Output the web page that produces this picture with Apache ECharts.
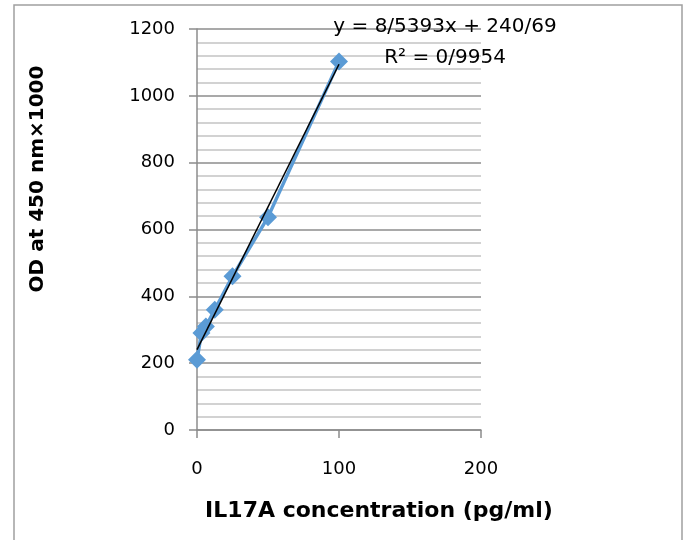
<!DOCTYPE html>
<html>
<head>
<meta charset="utf-8">
<script src="https://cdn.jsdelivr.net/npm/echarts@6/dist/echarts.min.js"></script>
<style>
  html, body { margin: 0; padding: 0; background: #fff; overflow: hidden; }
  #chart { width: 683px; height: 540px; }
</style>
</head>
<body>
<div id="chart"></div>
<script>
// 标准曲线数据 (pg/ml -> OD x1000)
const concentration = [0, 3.125, 6.25, 12.5, 25, 50, 100]
const odValues = [210, 290, 310, 360, 460, 637, 1103]
// 趋势线两端
const trendX = [0, 100]
const trendY = [240.69, 1094.62]
const trendLabel = ['y = 8/5393x + 240/69', 'R² = 0/9954']
const yTicks = [0, 200, 400, 600, 800, 1000, 1200]
const xTicks = [0, 100, 200]

const font = '"DejaVu Sans", "Noto Sans", sans-serif'

const chart = echarts.init(document.getElementById('chart'))

const option = {
  animation: false,
  backgroundColor: '#fff',
  grid: {
    left: 197,
    top: 29,
    width: 284,
    height: 401
  },
  xAxis: {
    type: 'value',
    min: xTicks[0],
    max: xTicks[xTicks.length - 1],
    interval: 100,
    axisLine: { show: true, lineStyle: { color: '#8c8c8c', width: 1.5 } },
    axisTick: { show: true, length: 8, lineStyle: { color: '#8c8c8c', width: 1.5 } },
    axisLabel: { color: '#000', fontSize: 18, fontFamily: font, margin: 30 },
    splitLine: { show: false }
  },
  yAxis: {
    type: 'value',
    min: yTicks[0],
    max: yTicks[yTicks.length - 1],
    interval: 200,
    axisLine: { show: true, lineStyle: { color: '#8c8c8c', width: 1.5 } },
    axisTick: { show: true, length: 8, lineStyle: { color: '#8c8c8c', width: 1.5 } },
    axisLabel: {
      color: '#000',
      fontSize: 18,
      fontFamily: font,
      margin: 22,
      formatter: (v) => String(v)
    },
    splitLine: { show: true, lineStyle: { color: '#8c8c8c', width: 1.5 } },
    minorTick: { show: false, splitNumber: 5 },
    minorSplitLine: { show: true, lineStyle: { color: '#c4c4c4', width: 1.5 } }
  },
  series: [
    {
      name: 'IL17A',
      type: 'line',
      data: concentration.map((x, i) => [x, odValues[i]]),
      symbol: 'diamond',
      symbolSize: 18,
      lineStyle: { color: '#5b9bd5', width: 3.5 },
      itemStyle: { color: '#5b9bd5' },
      z: 2
    },
    {
      name: 'trend',
      type: 'line',
      data: trendX.map((x, i) => [x, trendY[i]]),
      symbol: 'none',
      lineStyle: { color: '#000', width: 1.5 },
      z: 3
    }
  ],
  graphic: [
    // 外框 (下边在画面外)
    {
      type: 'rect',
      shape: { x: 14, y: 5, width: 668, height: 800 },
      style: { fill: null, stroke: '#a0a0a0', lineWidth: 1.5 },
      silent: true
    },
    {
      type: 'text',
      x: 445,
      y: 11,
      style: {
        text: trendLabel.join('\n'),
        font: '20px ' + font,
        fill: '#000',
        align: 'center',
        lineHeight: 31
      },
      z: 10
    },
    // 坐标轴标题
    {
      type: 'text',
      x: 379,
      y: 511,
      style: {
        text: 'IL17A concentration (pg/ml)',
        font: 'bold 22px ' + font,
        fill: '#000',
        align: 'center',
        verticalAlign: 'middle'
      }
    },
    {
      type: 'text',
      x: 38,
      y: 179,
      rotation: Math.PI / 2,
      style: {
        text: 'OD at 450 nm×1000',
        font: 'bold 20px ' + font,
        fill: '#000',
        align: 'center',
        verticalAlign: 'middle'
      }
    }
  ]
}

chart.setOption(option)
</script>
</body>
</html>
